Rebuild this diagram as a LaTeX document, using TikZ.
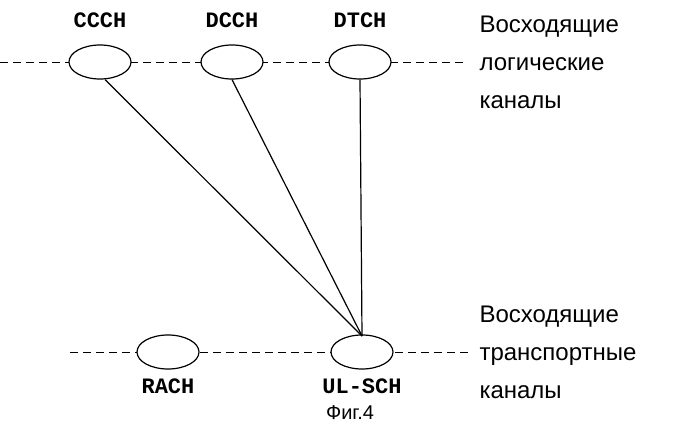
\documentclass[tikz,border=0pt]{standalone}
\usepackage{fontspec}
\usetikzlibrary{shapes.geometric}
\setmainfont{Liberation Sans}
\newfontfamily\chfont{Liberation Mono}
\begin{document}
\begin{tikzpicture}[x=1pt,y=-1pt,
  chan/.style={draw,ellipse,minimum width=62,minimum height=34,inner sep=0pt,line width=1.2pt},
  lbl/.style={font=\fontsize{22}{22}\selectfont\chfont\bfseries},
  txt/.style={font=\fontsize{24}{38}\selectfont,align=left,anchor=west},
  dash line/.style={dashed,dash pattern=on 8pt off 5pt,line width=1pt}]
\useasboundingbox (0,0) rectangle (698,423);
% verkhnij rjad
\draw[dash line] (0,62) -- (465,62);
\node[chan,fill=white] (ccch) at (100,62) {};
\node[chan,fill=white] (dcch) at (232,62) {};
\node[chan,fill=white] (dtch) at (360,62) {};
\node[lbl] at (100,20) {CCCH};
\node[lbl] at (232,20) {DCCH};
\node[lbl] at (360,20) {DTCH};
\node[txt] at (476,62) {Восходящие\\логические\\каналы};
% nizhnij rjad
\draw[dash line] (70,352) -- (470,352);
\node[chan,fill=white] (rach) at (168,352) {};
\node[chan,fill=white] (ulsch) at (362,352) {};
\node[lbl] at (168,386) {RACH};
\node[lbl] at (362,386) {UL-SCH};
\node[txt] at (476,352) {Восходящие\\транспортные\\каналы};
% svjazi
\coordinate (top) at (362,336);
\draw[line width=1.2pt] (ccch.south) ++(5,0) -- (top);
\draw[line width=1.2pt] (dcch.south) -- (top);
\draw[line width=1.2pt] (dtch.south) -- (top);
\node[font=\fontsize{20}{20}\selectfont] (fig) at (350,413) {Фиг.4};
\end{tikzpicture}
\end{document}
